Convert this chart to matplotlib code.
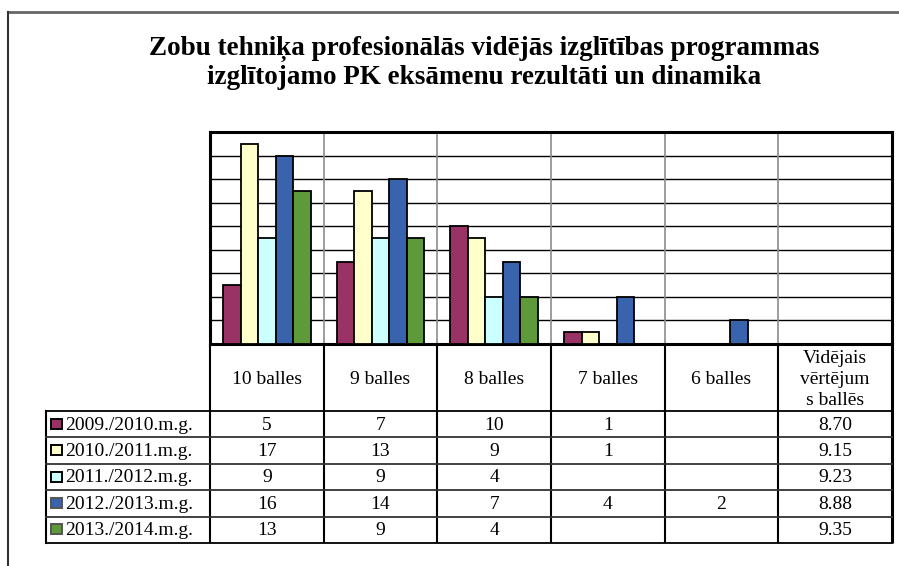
import matplotlib
matplotlib.use("Agg")
import matplotlib.pyplot as plt
import numpy as np

categories = ["10 balles", "9 balles", "8 balles", "7 balles", "6 balles",
              "Vidējais\nvērtējum\ns ballēs"]
series_names = ["2009./2010.m.g.", "2010./2011.m.g.", "2011./2012.m.g.",
                "2012./2013.m.g.", "2013./2014.m.g."]
s2009 = [5, 7, 10, 1, None]
s2010 = [17, 13, 9, 1, None]
s2011 = [9, 9, 4, None, None]
s2012 = [16, 14, 7, 4, 2]
s2013 = [13, 9, 4, None, None]
averages = ["8.70", "9.15", "9.23", "8.88", "9.35"]
title = ("Zobu tehniķa profesionālās vidējās izglītības programmas\n"
         "izglītojamo PK eksāmenu rezultāti un dinamika")

colors = ["#993366", "#FFFFCC", "#CCFFFF", "#3A63AD", "#5F9A3A"]
key_edges = ["black", "black", "black", "#555555", "#555555"]
series = [s2009, s2010, s2011, s2012, s2013]

W, H = 899, 566
fig = plt.figure(figsize=(W / 100, H / 100), dpi=100)
plt.rcParams['font.family'] = ['Liberation Serif', 'DejaVu Serif']

# overlay axes in pixel coordinates
ov = fig.add_axes([0, 0, 1, 1])
ov.set_xlim(0, W)
ov.set_ylim(H, 0)
ov.axis("off")

# plot area in pixels
pl, pr, pt, pb = 210, 892, 132, 344
ax = fig.add_axes([pl / W, 1 - pb / H, (pr - pl) / W, (pb - pt) / H])
ncat = len(categories)
ax.set_xlim(-0.5, ncat - 0.5)
ax.set_ylim(0, 18)
ax.set_yticks(np.arange(0, 19, 2))
ax.set_xticks([])
ax.tick_params(left=False, labelleft=False)
for y in np.arange(2, 18, 2):
    ax.axhline(y, color="black", lw=1.0, zorder=1)
for b in np.arange(0.5, ncat - 1, 1.0):
    ax.axvline(b, color="#8c8c8c", lw=1.2, zorder=1)
for sp in ax.spines.values():
    sp.set_linewidth(2.2)
    sp.set_color("black")

bw = 1 / 6.5
for i, (vals, c) in enumerate(zip(series, colors)):
    xs, hs = [], []
    for j, v in enumerate(vals):
        if v is not None:
            xs.append(j + (i - 2) * bw)
            hs.append(v)
    ax.bar(xs, hs, width=bw, color=c, edgecolor="black", lw=1.3, zorder=3)

# column boundaries from the axes scale
fig.canvas.draw()
def to_px(xd):
    disp = ax.transData.transform((xd, 0))
    return ov.transData.inverted().transform(disp)[0]
bounds = [to_px(b) for b in np.arange(-0.5, ncat, 1.0)]
centers = [to_px(j) for j in range(ncat)]

# table geometry
hdr_top, hdr_bot = pb, 411
row_h = 26.4
n_rows = len(series)
row_edges = [hdr_bot + k * row_h for k in range(n_rows + 1)]
tab_bot = row_edges[-1]
leg_left = 46

# vertical lines
for k, bx in enumerate(bounds):
    lw = 2.2 if k == len(bounds) - 1 else 1.5
    ov.plot([bx, bx], [hdr_top, tab_bot], color="black", lw=lw, solid_capstyle="butt")
ov.plot([leg_left, leg_left], [hdr_bot, tab_bot], color="black", lw=1.5)
# horizontal lines
for k, ry in enumerate(row_edges):
    ov.plot([leg_left, bounds[-1]], [ry, ry], color="black" if k in (0, n_rows) else "#333333", lw=1.3)

fs = 14
for j, cat in enumerate(categories):
    ov.text(centers[j], (hdr_top + hdr_bot) / 2 + 2, cat, ha="center", va="center",
            fontsize=fs, linespacing=1.3)

for i, (name, vals) in enumerate(zip(series_names, series)):
    yc = row_edges[i] + row_h / 2
    ov.add_patch(plt.Rectangle((51, yc - 5.5), 11, 10, facecolor=colors[i],
                               edgecolor=key_edges[i], lw=1.4))
    ov.text(65, yc + 1, name, ha="left", va="center", fontsize=fs)
    for j, v in enumerate(vals):
        if v is not None:
            ov.text(centers[j], yc + 1, str(v), ha="center", va="center", fontsize=fs)
    ov.text(centers[ncat - 1], yc + 1, averages[i], ha="center", va="center", fontsize=fs)

ov.text(484, 63, title, ha="center", va="center", fontsize=19.5, fontweight="bold",
        linespacing=1.12)

# outer frame (top and left)
ov.plot([8, W], [12, 12], color="#666666", lw=2)
ov.plot([8, 8], [12, H], color="#333333", lw=1.5)

fig.savefig("out.png", dpi=100)
